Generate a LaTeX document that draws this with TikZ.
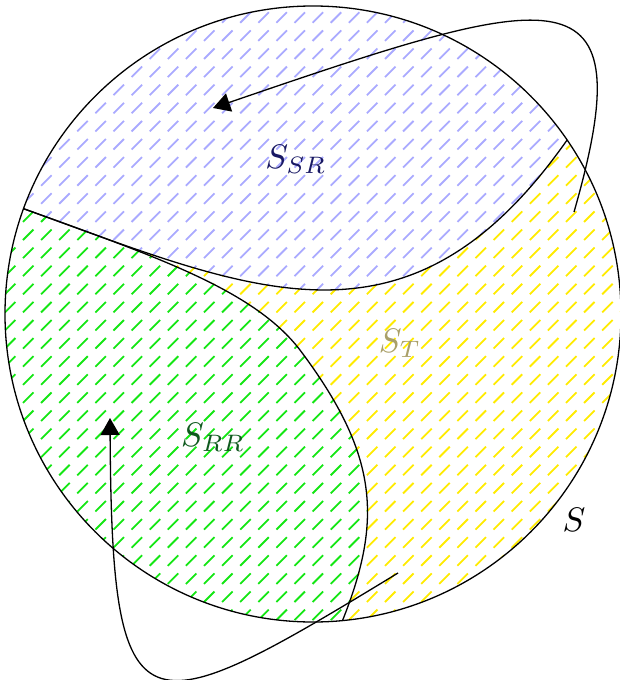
\documentclass[tikz,border=0pt]{standalone}
\usetikzlibrary{arrows.meta}
\definecolor{hatchblue}{RGB}{170,170,255}
\definecolor{hatchgreen}{RGB}{20,230,20}
\definecolor{hatchyellow}{RGB}{255,235,0}
\definecolor{labblue}{RGB}{25,25,100}
\definecolor{labgreen}{RGB}{15,90,30}
\definecolor{labtan}{RGB}{170,160,105}
\begin{document}
\begin{tikzpicture}[x=1pt,y=-1pt,
  outline/.style={line width=1.3pt},
  hatch/.style={line width=1.8pt},
  lab/.style={inner sep=0pt, scale=3.4},
  looparrow/.style={line width=1.3pt, -{Triangle[length=17pt,width=19pt]}}]
\useasboundingbox (0,0) rectangle (620,680);
\coordinate (O) at (313,314);
\coordinate (A) at (23.6,208.7);
\coordinate (B) at (567.1,140.0);
\coordinate (C) at (342.5,620.6);
\coordinate (M) at (300,350);
% S_SR hatching
\begin{scope}
\clip (A) arc[start angle=200, end angle=325.6, radius=308]
  .. controls (409,365) and (254,292) .. (A) -- cycle;
\draw[hatch, hatchblue] \foreach \i in {-2,...,34} {\foreach \j in {-14,...,25} {(23+18.1*\i, 240+18.1*\j) -- ++(10.5,-10.5)}};
\end{scope}
% S_RR hatching
\begin{scope}
\clip (C) arc[start angle=84.5, end angle=200, radius=308]
  .. controls (157,257) and (254,290) .. (M)
  .. controls (378,454) and (383,519) .. (C) -- cycle;
\draw[hatch, hatchgreen] \foreach \i in {-2,...,34} {\foreach \j in {-14,...,25} {(23+18.1*\i, 240+18.1*\j) -- ++(10.5,-10.5)}};
\end{scope}
% S_T hatching
\begin{scope}
\clip (B) arc[start angle=-34.4, end angle=84.5, radius=308]
  .. controls (383,519) and (378,454) .. (M)
  .. controls (254,290) and (157,257) .. (A)
  .. controls (254,292) and (409,365) .. (B) -- cycle;
\draw[hatch, hatchyellow] \foreach \i in {-2,...,34} {\foreach \j in {-14,...,25} {(23+18.1*\i, 240+18.1*\j) -- ++(10.5,-10.5)}};
\end{scope}
% outlines
\draw[outline] (O) circle (308);
\draw[outline] (A) .. controls (254,292) and (409,365) .. (B);
\draw[outline] (A) .. controls (157,257) and (254,290) .. (M)
  .. controls (378,454) and (383,519) .. (C);
% arrows
\coordinate (a1s) at (574,212);
\coordinate (a1e) at (213,108);
\coordinate (a2s) at (398,573);
\coordinate (a2e) at (110,418);
\draw[looparrow] (a1s) .. controls (645,-35) and (560,-11) .. (a1e);
\draw[looparrow] (a2s) .. controls (140,730) and (112,740) .. (a2e);
% labels
\node[lab, text=labblue] (lSR) at (296,159) {$S_{SR}$};
\node[lab, text=labgreen] (lRR) at (213,437) {$S_{RR}$};
\node[lab, text=labtan] (lT) at (400,343) {$S_{T}$};
\node[lab, text=black] (lS) at (574,520) {$S$};
\end{tikzpicture}
\end{document}
